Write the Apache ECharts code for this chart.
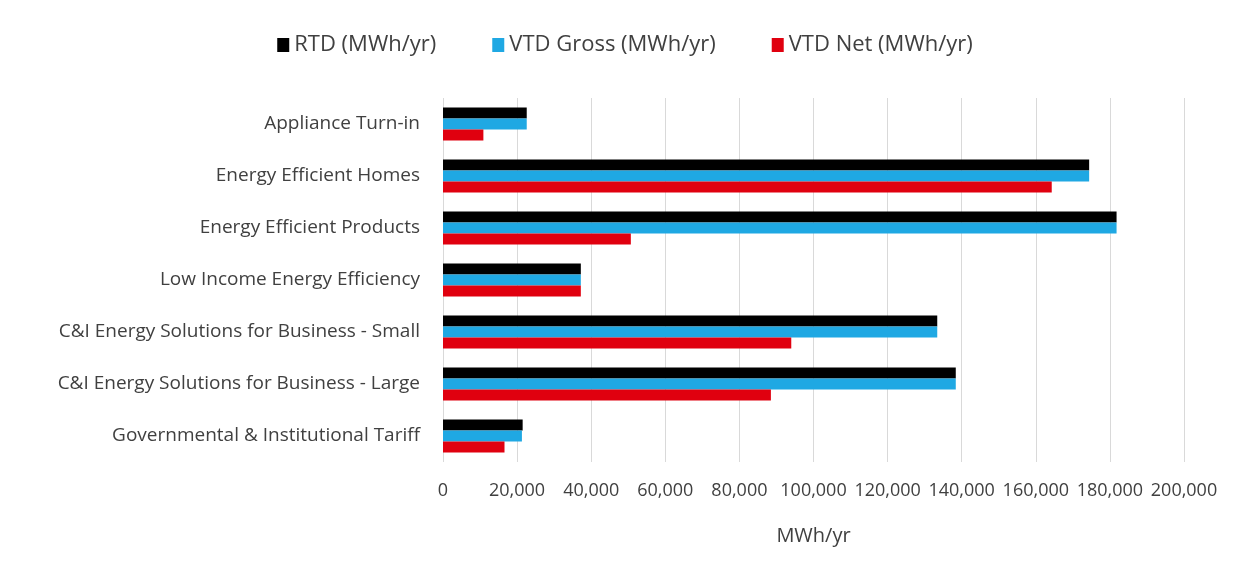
<!DOCTYPE html>
<html>
<head>
<meta charset="utf-8">
<script src="https://cdn.jsdelivr.net/npm/echarts@6/dist/echarts.min.js"></script>
<style>
  html, body { margin: 0; padding: 0; background: #fff; }
  #main { width: 1250px; height: 575px; }
</style>
</head>
<body>
<div id="main"></div>
<script>
// categories, top to bottom
var categories = [
  "Appliance Turn-in",
  "Energy Efficient Homes",
  "Energy Efficient Products",
  "Low Income Energy Efficiency",
  "C&I Energy Solutions for Business - Small",
  "C&I Energy Solutions for Business - Large",
  "Governmental & Institutional Tariff"
];
var rtd = [22600, 174400, 181800, 37200, 133400, 138400, 21500];
var vtdGross = [22600, 174400, 181800, 37200, 133400, 138400, 21300];
var vtdNet = [10900, 164300, 50700, 37200, 94000, 88500, 16600];
var seriesNames = ["RTD (MWh/yr)", "VTD Gross (MWh/yr)", "VTD Net (MWh/yr)"];

var font = "Open Sans";
var myChart = echarts.init(document.getElementById("main"));
myChart.setOption({
  animation: false,
  color: ["#000000", "#1fa8e3", "#e0000f"],
  textStyle: { fontFamily: font },
  legend: {
    top: 29,
    left: "center",
    icon: "rect",
    itemWidth: 12,
    itemHeight: 14,
    itemGap: 56,
    textStyle: { fontSize: 22, color: "#404040", fontFamily: font },
    data: seriesNames
  },
  grid: { left: 443, right: 66, top: 98, bottom: 113, containLabel: false },
  xAxis: {
    type: "value",
    min: 0,
    max: 200000,
    interval: 20000,
    name: "MWh/yr",
    nameLocation: "middle",
    nameGap: 64,
    nameTextStyle: { fontSize: 20, color: "#404040", fontFamily: font },
    axisLine: { show: false },
    axisTick: { show: false },
    axisLabel: {
      fontSize: 18,
      color: "#404040",
      margin: 20,
      formatter: function (v) { return v.toLocaleString("en-US"); }
    },
    splitLine: { show: true, lineStyle: { color: "#d9d9d9", width: 1 } }
  },
  yAxis: {
    type: "category",
    inverse: true,
    data: categories,
    axisLine: { show: false },
    axisTick: { show: false },
    axisLabel: { fontSize: 19, color: "#404040", margin: 23 }
  },
  series: [
    { name: seriesNames[0], type: "bar", barWidth: 11, barGap: "0%", data: rtd },
    { name: seriesNames[1], type: "bar", barWidth: 11, barGap: "0%", data: vtdGross },
    { name: seriesNames[2], type: "bar", barWidth: 11, barGap: "0%", data: vtdNet }
  ]
});
</script>
</body>
</html>
